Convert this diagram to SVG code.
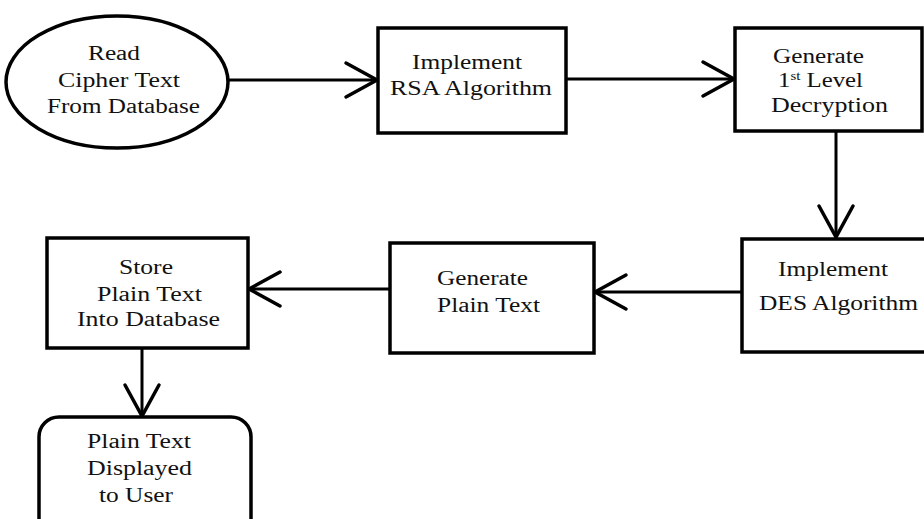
<svg xmlns="http://www.w3.org/2000/svg" width="924" height="519" viewBox="0 0 924 519">
  <style>
    .shape { fill: #ffffff; stroke: #000000; stroke-width: 3.5; }
    .conn { fill: none; stroke: #000000; stroke-width: 3; }
    .lbl { font-size: 20px; fill: #111111; text-anchor: middle; }
  </style>
  <defs>
    <marker id="vee" markerUnits="userSpaceOnUse" markerWidth="40" markerHeight="40" refX="0" refY="0" viewBox="-34 -20 38 40" orient="auto" overflow="visible">
      <path d="M-31,-17 L0,0 L-31,17" fill="none" stroke="#000000" stroke-width="3.5" stroke-linecap="round" stroke-linejoin="miter"/>
    </marker>
  </defs>
  <rect width="924" height="519" fill="#ffffff"/>

  <g id="connectors">
    <line class="conn" x1="229" y1="80" x2="377" y2="80" marker-end="url(#vee)"/>
    <line class="conn" x1="566" y1="79" x2="734" y2="79" marker-end="url(#vee)"/>
    <line class="conn" x1="836" y1="131" x2="836" y2="237" marker-end="url(#vee)"/>
    <line class="conn" x1="742" y1="292" x2="595" y2="292" marker-end="url(#vee)"/>
    <line class="conn" x1="390" y1="289" x2="249" y2="289" marker-end="url(#vee)"/>
    <line class="conn" x1="142" y1="348" x2="142" y2="416" marker-end="url(#vee)"/>
  </g>

  <g font-family="Liberation Serif, Times New Roman, DejaVu Serif, serif">
  <g id="read-cipher">
    <ellipse class="shape" cx="117" cy="82" rx="111" ry="66"/>
    <text class="lbl" x="114" y="60" textLength="52" lengthAdjust="spacingAndGlyphs">Read</text>
    <text class="lbl" x="119" y="87" textLength="122" lengthAdjust="spacingAndGlyphs">Cipher Text</text>
    <text class="lbl" x="123.5" y="113" textLength="153" lengthAdjust="spacingAndGlyphs">From Database</text>
  </g>

  <g id="rsa">
    <rect class="shape" x="378" y="28" width="188" height="105"/>
    <text class="lbl" x="467" y="69" textLength="110" lengthAdjust="spacingAndGlyphs">Implement</text>
    <text class="lbl" x="471" y="95" textLength="162" lengthAdjust="spacingAndGlyphs">RSA Algorithm</text>
  </g>

  <g id="first-level">
    <rect class="shape" x="735" y="28" width="187" height="103"/>
    <text class="lbl" x="818.5" y="63" textLength="91" lengthAdjust="spacingAndGlyphs">Generate</text>
    <text class="lbl" transform="translate(778,87) scale(1.24,1)" x="0" y="0" style="text-anchor:start">1<tspan dy="-7" font-size="12">st</tspan><tspan dy="7"> Level</tspan></text>
    <text class="lbl" x="829.5" y="112" textLength="117" lengthAdjust="spacingAndGlyphs">Decryption</text>
  </g>

  <g id="des">
    <rect class="shape" x="742" y="239" width="200" height="113"/>
    <text class="lbl" x="833" y="276" textLength="110" lengthAdjust="spacingAndGlyphs">Implement</text>
    <text class="lbl" x="838.5" y="310" textLength="159" lengthAdjust="spacingAndGlyphs">DES Algorithm</text>
  </g>

  <g id="generate-plain">
    <rect class="shape" x="390" y="243" width="204" height="110"/>
    <text class="lbl" x="482.5" y="285" textLength="91" lengthAdjust="spacingAndGlyphs">Generate</text>
    <text class="lbl" x="488.5" y="312" textLength="103" lengthAdjust="spacingAndGlyphs">Plain Text</text>
  </g>

  <g id="store">
    <rect class="shape" x="47" y="238" width="201" height="110"/>
    <text class="lbl" x="146" y="274" textLength="54" lengthAdjust="spacingAndGlyphs">Store</text>
    <text class="lbl" x="149.5" y="301" textLength="105" lengthAdjust="spacingAndGlyphs">Plain Text</text>
    <text class="lbl" x="148.5" y="326" textLength="143" lengthAdjust="spacingAndGlyphs">Into Database</text>
  </g>

  <g id="display">
    <rect class="shape" x="39" y="417" width="212" height="125" rx="20" ry="20"/>
    <text class="lbl" x="139" y="448" textLength="104" lengthAdjust="spacingAndGlyphs">Plain Text</text>
    <text class="lbl" x="139.5" y="475" textLength="105" lengthAdjust="spacingAndGlyphs">Displayed</text>
    <text class="lbl" x="136" y="502" textLength="74" lengthAdjust="spacingAndGlyphs">to User</text>
  </g>
  </g>
</svg>
